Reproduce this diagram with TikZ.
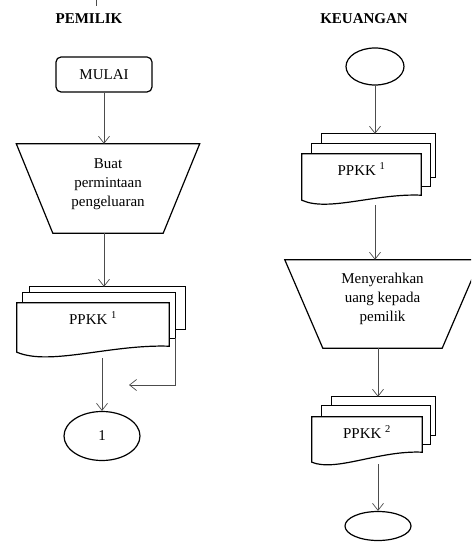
\documentclass[tikz,border=0pt]{standalone}
\usepackage{fontspec}
\setmainfont{Liberation Serif}
\usetikzlibrary{arrows.meta,shapes.geometric}

\begin{document}
\begin{tikzpicture}[x=1pt,y=-1pt,>={Straight Barb[length=7pt,width=11pt]}]
      \tikzstyle{every node}=[font=\fontsize{15}{19}\selectfont];
      \tikzstyle{garis}=[draw=black!70,line width=0.7pt];
      \tikzstyle{bentuk}=[draw,line width=1.2pt];
      \tikzstyle{kosong}=[rectangle,inner sep=0pt];
      \tikzstyle{judul}=[font=\fontsize{15}{19}\selectfont\bfseries];
        \useasboundingbox (0,0) rectangle (471,548);
        \clip (0,0) rectangle (471,548);

        % pemilik
        \coordinate (atas) at (96,0);
        \draw[garis] (atas) -- ++(0,6);
        \node[judul] (judul1) at (89,18.5) {PEMILIK};
        \node[bentuk,rounded corners=5pt,minimum width=96pt,minimum height=35pt] (mulai) at (104,74.5) {MULAI};
        \node[kosong,minimum width=183pt,minimum height=89pt] (buat) at (108,188.5)
            {\raisebox{1pt}[0pt][0pt]{\begin{tabular}{@{}c@{}}Buat\\permintaan\\pengeluaran\end{tabular}}};
        \draw[bentuk] (buat.north west) -- (buat.north east) -- ([xshift=-36.5pt]buat.south east)
            -- ([xshift=36.5pt]buat.south west) -- cycle;

        \node[kosong,minimum width=155pt,minimum height=42pt] (dok1c) at (107.5,308) {};
        \node[kosong,minimum width=152pt,minimum height=45pt] (dok1b) at (99,315.5) {};
        \node[kosong,minimum width=152pt,minimum height=55pt] (dok1) at (93,330.5)
            {\raisebox{6.5pt}[0pt][0pt]{PPKK \textsuperscript{1}}};
        \draw[bentuk] (dok1c.west |- dok1b.north) -- (dok1c.north west) -- (dok1c.north east) -- (dok1c.south east) -- (dok1c.south -| dok1b.east);
        \draw[bentuk] (dok1b.west |- dok1.north) -- (dok1b.north west) -- (dok1b.north east) -- (dok1b.south east) -- (dok1b.south -| dok1.east);
        \draw[bentuk] (dok1.north west) -- (dok1.north east) -- ([yshift=12pt]dok1.south east)
            .. controls +(-59,-2) and +(33,14) .. ([yshift=6pt]dok1.south west) -- cycle;

        \coordinate (balik) at (129,385);
        \node[bentuk,ellipse,minimum width=76pt,minimum height=49pt,inner sep=0pt] (satu) at (102,436) {1};

        \path[garis,->] (mulai.south) -- (mulai.south |- buat.north);
        \path[garis,->] (mulai.south |- buat.south) -- (mulai.south |- dok1c.north);
        \path[garis,->] (satu.north |- dok1.south) -- (satu.north);
        \path[garis,->] (dok1b.south east) |- (balik);

        % keuangan
        \node[judul] (judul2) at (364,18.5) {KEUANGAN};
        \node[bentuk,ellipse,minimum width=58pt,minimum height=37pt,inner sep=0pt] (awal) at (375,66.5) {};

        \node[kosong,minimum width=113pt,minimum height=43pt] (dok2c) at (378.5,155.5) {};
        \node[kosong,minimum width=118pt,minimum height=42pt] (dok2b) at (371,165) {};
        \node[kosong,minimum width=119pt,minimum height=51pt] (dok2) at (361.5,179.5)
            {\raisebox{4.5pt}[0pt][0pt]{PPKK \textsuperscript{1}}};
        \draw[bentuk] (dok2c.west |- dok2b.north) -- (dok2c.north west) -- (dok2c.north east) -- (dok2c.south east) -- (dok2c.south -| dok2b.east);
        \draw[bentuk] (dok2b.west |- dok2.north) -- (dok2b.north west) -- (dok2b.north east) -- (dok2b.south east) -- (dok2b.south -| dok2.east);
        \draw[bentuk] (dok2.north west) -- (dok2.north east) -- ([yshift=10pt]dok2.south east)
            .. controls +(-46,-2) and +(26,12) .. ([yshift=5pt]dok2.south west) -- cycle;

        \node[kosong,minimum width=195pt,minimum height=88pt] (serah) at (382.5,304)
            {\raisebox{1.5pt}[0pt][0pt]{\begin{tabular}{@{}c@{}}Menyerahkan\\uang kepada\\pemilik\end{tabular}}};
        \draw[bentuk] (serah.north west) -- (serah.north east) -- ([xshift=-38pt]serah.south east)
            -- ([xshift=38pt]serah.south west) -- cycle;

        \node[kosong,minimum width=103pt,minimum height=38pt] (dok3c) at (383.5,416) {};
        \node[kosong,minimum width=108pt,minimum height=38pt] (dok3b) at (376,425) {};
        \node[kosong,minimum width=110pt,minimum height=47pt] (dok3) at (367,440.5)
            {\raisebox{2.5pt}[0pt][0pt]{PPKK \textsuperscript{2}}};
        \draw[bentuk] (dok3c.west |- dok3b.north) -- (dok3c.north west) -- (dok3c.north east) -- (dok3c.south east) -- (dok3c.south -| dok3b.east);
        \draw[bentuk] (dok3b.west |- dok3.north) -- (dok3b.north west) -- (dok3b.north east) -- (dok3b.south east) -- (dok3b.south -| dok3.east);
        \draw[bentuk] (dok3.north west) -- (dok3.north east) -- ([yshift=12pt]dok3.south east)
            .. controls +(-43,-2) and +(24,10) .. ([yshift=2pt]dok3.south west) -- cycle;

        \node[bentuk,ellipse,minimum width=66pt,minimum height=29pt,inner sep=0pt] (akhir) at (378,526) {};

        \path[garis,->] (awal.south) -- (awal.south |- dok2c.north);
        \path[garis,->] (awal.south |- dok2.south) -- (awal.south |- serah.north);
        \path[garis,->] (akhir.north |- serah.south) -- (akhir.north |- dok3c.north);
        \path[garis,->] (akhir.north |- dok3.south) -- (akhir.north);
    \end{tikzpicture}
\end{document}
